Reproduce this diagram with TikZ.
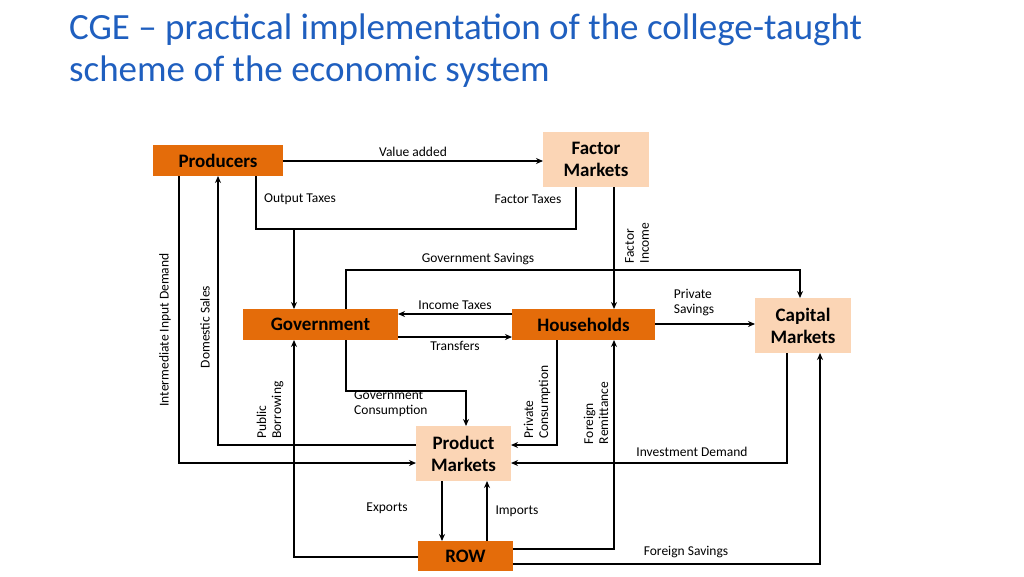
\documentclass[tikz,border=0pt]{standalone}
\usepackage{fontspec}
\setmainfont{Carlito}
\usetikzlibrary{arrows.meta}
\definecolor{dk}{HTML}{E46C0A}
\definecolor{lt}{HTML}{FBD5B5}
\definecolor{ttl}{HTML}{1F5FBF}
\begin{document}
\begin{tikzpicture}[x=1pt,y=-1pt,
  bt/.style={font=\fontsize{19}{22}\selectfont\bfseries,align=center},
  lab/.style={font=\fontsize{13.5}{15}\selectfont,align=left,inner sep=1pt},
  rlab/.style={lab,rotate=90},
  ar/.style={-{Stealth[length=7pt,width=6pt]},line width=1.2pt},
  ln/.style={line width=1.2pt}]
\useasboundingbox (0,0) rectangle (1024,576);
\node[anchor=north west,text=ttl,font=\fontsize{37}{42}\selectfont,align=left,inner sep=0pt] (title) at (69,14) {CGE -- practical implementation of the college-taught\\scheme of the economic system};
% boxes
\path[fill=dk] (153,145) rectangle (283,176); \node[bt] (prod) at (218,160.5) {Producers};
\path[fill=lt] (543,132) rectangle (649,187); \node[bt] (fac) at (596,159.5) {Factor\\Markets};
\path[fill=dk] (243,309) rectangle (398,340); \node[bt] (gov) at (320.5,324.5) {Government};
\path[fill=dk] (512,309) rectangle (655,340); \node[bt] (hh) at (583.5,324.5) {Households};
\path[fill=lt] (755,298) rectangle (851,353); \node[bt] (cap) at (803,325.5) {Capital\\Markets};
\path[fill=lt] (416,426) rectangle (511,481); \node[bt] (pm) at (463.5,453.5) {Product\\Markets};
\path[fill=dk] (418,541) rectangle (513,571); \node[bt] (row) at (465.5,556) {ROW};
% connectors
\draw[ar] (283,161) -- node[lab,above=3pt]{Value added} (543,161);
\coordinate (tj) at (294,229);
\draw[ln] (256,176) -- (256,229) -- (576,229) -- (576,187);
\draw[ar] (tj) -- (294,309);
\node[lab] at (300,199) {Output Taxes};
\node[lab] at (528,199) {Factor Taxes};
\draw[ar] (614,187) -- (614,309);
\node[rlab] at (637,243) {Factor\\Income};
\draw[ar] (346,309) -- (346,270) -- (800,270) -- (800,298);
\node[lab] at (478,259) {Government Savings};
\draw[ar] (512,314) -- node[lab,above=3pt]{Income Taxes} (398,314);
\draw[ar] (398,337) -- node[lab,below=3pt]{Transfers} (512,337);
\draw[ar] (655,324) -- (755,324);
\node[lab] at (694,303) {Private\\Savings};
\draw[ar] (346,340) -- (346,391) -- (466,391) -- (466,426);
\node[lab,anchor=west] at (353,404) {Government\\Consumption};
\draw[ar] (557,340) -- (557,445) -- (511,445);
\node[rlab] at (537,402) {Private\\Consumption};
\draw[ar] (513,549) -- (614,549) -- (614,340);
\node[rlab] at (596,413) {Foreign\\Remittance};
\draw[ar] (787,353) -- (787,463) -- (511,463);
\node[lab] at (692,452) {Investment Demand};
\draw[ar] (442,481) -- (442,541);
\node[lab] at (387,508) {Exports};
\draw[ar] (487,541) -- (487,481);
\node[lab] at (517,511) {Imports};
\draw[ar] (513,564) -- (820,564) -- (820,353);
\node[lab] at (686,552) {Foreign Savings};
\draw[ar] (418,557) -- (294,557) -- (294,340);
\node[rlab] at (270,410) {Public\\Borrowing};
\draw[ar] (416,445) -- (218,445) -- (218,176);
\node[rlab] at (205,327) {Domestic Sales};
\draw[ar] (179,176) -- (179,463) -- (416,463);
\node[rlab] at (165,330) {Intermediate Input Demand};
\end{tikzpicture}
\end{document}
